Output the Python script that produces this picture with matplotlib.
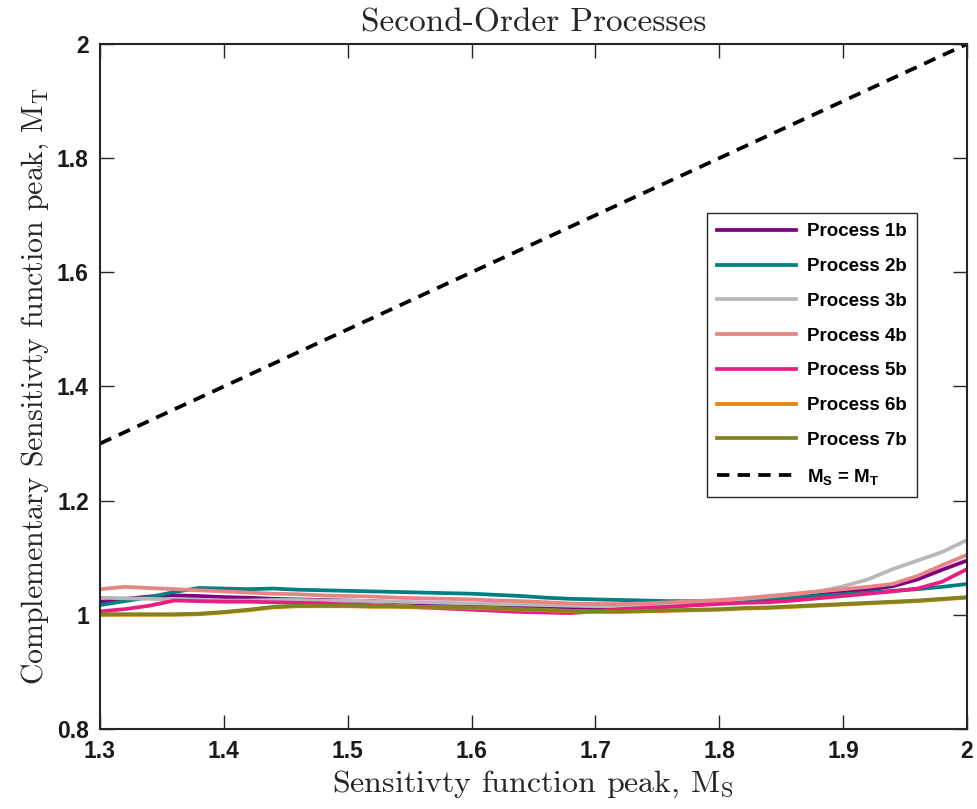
import numpy as np
import matplotlib
matplotlib.use("Agg")
import matplotlib.pyplot as plt

plt.rcParams['mathtext.fontset'] = 'custom'
plt.rcParams['mathtext.rm'] = 'cmr10'
plt.rcParams['mathtext.it'] = 'cmr10'
plt.rcParams['mathtext.bf'] = 'Liberation Sans:bold'
plt.rcParams['axes.unicode_minus'] = False

ms = [1.30, 1.32, 1.34, 1.36, 1.38, 1.40, 1.42, 1.44, 1.46, 1.48, 1.50, 1.52,
      1.54, 1.56, 1.58, 1.60, 1.62, 1.64, 1.66, 1.68, 1.70, 1.72, 1.74, 1.76,
      1.78, 1.80, 1.82, 1.84, 1.86, 1.88, 1.90, 1.92, 1.94, 1.96, 1.98, 2.00]

p1 = [1.023, 1.028, 1.032, 1.034, 1.033, 1.031, 1.030, 1.028, 1.027, 1.026, 1.025, 1.024,
      1.022, 1.020, 1.019, 1.018, 1.017, 1.015, 1.014, 1.013, 1.012, 1.012, 1.013, 1.015,
      1.017, 1.020, 1.023, 1.027, 1.031, 1.035, 1.039, 1.044, 1.050, 1.062, 1.079, 1.095]
p2 = [1.017, 1.024, 1.031, 1.040, 1.047, 1.046, 1.045, 1.046, 1.044, 1.043, 1.042, 1.041,
      1.040, 1.039, 1.038, 1.037, 1.035, 1.033, 1.030, 1.028, 1.027, 1.026, 1.025, 1.024,
      1.024, 1.024, 1.026, 1.029, 1.031, 1.033, 1.036, 1.039, 1.042, 1.045, 1.049, 1.054]
p3 = [1.030, 1.029, 1.028, 1.027, 1.026, 1.025, 1.025, 1.026, 1.026, 1.025, 1.025, 1.024,
      1.023, 1.022, 1.021, 1.020, 1.019, 1.018, 1.017, 1.016, 1.015, 1.015, 1.016, 1.018,
      1.021, 1.024, 1.028, 1.032, 1.036, 1.041, 1.050, 1.062, 1.080, 1.095, 1.110, 1.131]
p4 = [1.045, 1.049, 1.047, 1.045, 1.043, 1.041, 1.039, 1.037, 1.036, 1.034, 1.033, 1.032,
      1.030, 1.029, 1.028, 1.027, 1.025, 1.024, 1.022, 1.020, 1.019, 1.019, 1.020, 1.022,
      1.024, 1.026, 1.029, 1.033, 1.037, 1.041, 1.045, 1.049, 1.054, 1.068, 1.087, 1.105]
p5 = [1.006, 1.010, 1.016, 1.025, 1.024, 1.023, 1.023, 1.022, 1.021, 1.020, 1.018, 1.017,
      1.015, 1.013, 1.011, 1.009, 1.007, 1.005, 1.004, 1.003, 1.006, 1.010, 1.012, 1.014,
      1.017, 1.019, 1.021, 1.022, 1.025, 1.029, 1.033, 1.037, 1.041, 1.046, 1.058, 1.080]
p6 = [1.000, 1.000, 1.000, 1.000, 1.001, 1.004, 1.008, 1.013, 1.015, 1.015, 1.015, 1.014,
      1.014, 1.013, 1.013, 1.012, 1.011, 1.009, 1.008, 1.006, 1.005, 1.005, 1.006, 1.007,
      1.008, 1.009, 1.011, 1.012, 1.014, 1.016, 1.018, 1.020, 1.022, 1.024, 1.027, 1.030]
p7 = [1.001, 1.001, 1.001, 1.001, 1.002, 1.005, 1.009, 1.014, 1.016, 1.016, 1.016, 1.015,
      1.015, 1.014, 1.014, 1.013, 1.012, 1.010, 1.009, 1.007, 1.006, 1.006, 1.007, 1.008,
      1.009, 1.010, 1.012, 1.013, 1.015, 1.017, 1.019, 1.021, 1.023, 1.025, 1.028, 1.031]

names = ['Process 1b', 'Process 2b', 'Process 3b', 'Process 4b',
         'Process 5b', 'Process 6b', 'Process 7b']
colors = ['#800080', '#008080', '#b8b8b8', '#e88484', '#e81e82', '#e8850a', '#82821e']
diag = [1.3, 2.0]

fig = plt.figure(figsize=(9.78, 8.09), dpi=100)
ax = fig.add_axes([0.1022, 0.0989, 0.8865, 0.8467])

for y, c, n in zip([p1, p2, p3, p4, p5, p6, p7], colors, names):
    ax.plot(ms, y, color=c, lw=2.7, label=n)
ax.plot(diag, diag, 'k--', lw=2.7, dashes=(3.3, 2.2), label=r'$\mathbf{M_S}$ = $\mathbf{M_T}$')

ax.set_xlim(1.3, 2.0)
ax.set_ylim(0.8, 2.0)
ax.set_xticks([1.3, 1.4, 1.5, 1.6, 1.7, 1.8, 1.9, 2.0])
ax.set_xticklabels(['1.3', '1.4', '1.5', '1.6', '1.7', '1.8', '1.9', '2'])
ax.set_yticks([0.8, 1.0, 1.2, 1.4, 1.6, 1.8, 2.0])
ax.set_yticklabels(['0.8', '1', '1.2', '1.4', '1.6', '1.8', '2'])
ax.tick_params(direction='in', length=10, width=1, top=True, right=True,
               labelsize=16.5, pad=8, colors='#262626')
for lab in ax.get_xticklabels() + ax.get_yticklabels():
    lab.set_fontfamily('Liberation Sans')
    lab.set_fontweight('bold')
    lab.set_color('#1a1a1a')
for s in ax.spines.values():
    s.set_linewidth(1.5)
    s.set_color('#262626')

ax.set_xlabel(r'Sensitivty function peak, $\mathrm{M_S}$', fontfamily='cmr10',
              fontsize=23, labelpad=4, color='#262626')
ax.set_ylabel(r'Complementary Sensitivty function peak, $\mathrm{M_T}$', fontfamily='cmr10',
              fontsize=21.5, labelpad=4, color='#262626')
ax.set_title('Second-Order Processes', fontfamily='cmr10', fontsize=24, pad=9,
             color='#262626')

leg = ax.legend(loc='upper right', bbox_to_anchor=(0.9535, 0.767), fancybox=False,
                framealpha=1, edgecolor='#262626', handlelength=4.2, labelspacing=0.94,
                borderpad=0.55, handletextpad=0.6,
                prop={'family': 'Liberation Sans', 'weight': 'bold', 'size': 13.5})
leg.get_frame().set_linewidth(1.0)

fig.savefig('out.png', dpi=100)
